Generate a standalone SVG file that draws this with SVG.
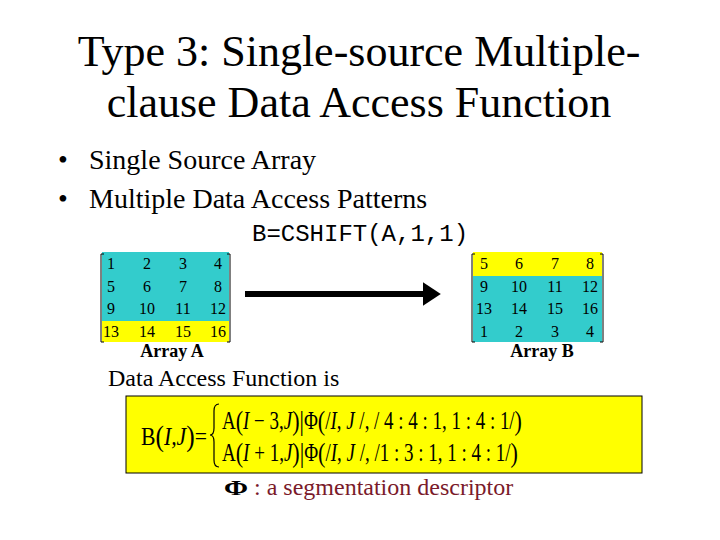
<svg xmlns="http://www.w3.org/2000/svg" width="720" height="540" viewBox="0 0 720 540">
<style>
.serif{font-family:"Liberation Serif","Times New Roman",serif;fill:#000}
.title{font-size:44px;text-anchor:middle}
.bullet{font-size:28px}
.num{font-size:16px;text-anchor:middle}
.lbl{font-size:18px;font-weight:bold;text-anchor:middle}
.mono{font-family:"Liberation Mono","Courier New",monospace;font-size:24px;fill:#000}
.f{font-size:18px}
.p{font-size:21px}
.it{font-style:italic}
.brk{fill:none;stroke:#000;stroke-width:1}
.teal{fill:#33CCCC}
.yel{fill:#FFFF00}
</style>
<defs>
<marker id="ah" markerWidth="4" markerHeight="4" refX="0.2" refY="2" orient="auto" markerUnits="strokeWidth">
<path d="M0,0 L3,2 L0,4 Z" fill="#000"/>
</marker>
</defs>
<rect width="720" height="540" fill="#fff"/>
<g id="title">
<text class="serif title" x="359" y="66">Type 3: Single-source Multiple-</text>
<text class="serif title" x="359" y="117">clause Data Access Function</text>
</g>
<g id="bullets">
<text class="serif bullet" x="58" y="169">•</text>
<text class="serif bullet" x="89" y="169">Single Source Array</text>
<text class="serif bullet" x="58" y="208">•</text>
<text class="serif bullet" x="89" y="208">Multiple Data Access Patterns</text>
</g>
<g id="code">
<text class="mono" x="252" y="241">B=CSHIFT(A,1,1)</text>
</g>
<g id="arrayA">
<rect class="teal" x="102" y="252" width="127" height="69"/>
<rect class="yel" x="102" y="321" width="127" height="21"/>
<path class="brk" d="M104,254 L101,254 L101,342 L104,342"/>
<path class="brk" d="M227,254 L230,254 L230,342 L227,342"/>
<g class="serif num">
<text x="111" y="269">1</text><text x="147" y="269">2</text><text x="183" y="269">3</text><text x="218" y="269">4</text>
<text x="111" y="292">5</text><text x="147" y="292">6</text><text x="183" y="292">7</text><text x="218" y="292">8</text>
<text x="111" y="314">9</text><text x="147" y="314">10</text><text x="183" y="314">11</text><text x="218" y="314">12</text>
<text x="111" y="337">13</text><text x="147" y="337">14</text><text x="183" y="337">15</text><text x="218" y="337">16</text>
</g>
<text class="serif lbl" x="172" y="357">Array A</text>
</g>
<g id="arrayB">
<rect class="yel" x="473" y="252" width="129" height="24"/>
<rect class="teal" x="473" y="276" width="129" height="66"/>
<path class="brk" d="M475,254 L472,254 L472,342 L475,342"/>
<path class="brk" d="M600,254 L603,254 L603,342 L600,342"/>
<g class="serif num">
<text x="484" y="269">5</text><text x="519" y="269">6</text><text x="555" y="269">7</text><text x="590" y="269">8</text>
<text x="484" y="292">9</text><text x="519" y="292">10</text><text x="555" y="292">11</text><text x="590" y="292">12</text>
<text x="484" y="314">13</text><text x="519" y="314">14</text><text x="555" y="314">15</text><text x="590" y="314">16</text>
<text x="484" y="337">1</text><text x="519" y="337">2</text><text x="555" y="337">3</text><text x="590" y="337">4</text>
</g>
<text class="serif lbl" x="542" y="357">Array B</text>
</g>
<g id="connectors">
<line x1="245" y1="294" x2="424" y2="294" stroke="#000" stroke-width="6" marker-end="url(#ah)"/>
</g>
<g id="daf-label">
<text class="serif" x="108" y="386" font-size="24">Data Access Function is</text>
</g>
<g id="formula">
<rect x="126" y="396" width="516" height="77" fill="#FFFF00" stroke="#000" stroke-width="1"/>
<g transform="translate(141,445) scale(1,1.4)">
<text class="serif f" x="0" y="0" textLength="66" lengthAdjust="spacingAndGlyphs">B<tspan class="p" dy="1">(</tspan><tspan class="it" dy="-1">I,J</tspan><tspan class="p" dy="1">)</tspan><tspan dy="-1">=</tspan></text>
</g>
<path d="M219,404 Q214,404 214,411 L214,428 Q214,435 210,435 Q214,435 214,442 L214,460 Q214,467 219,467" fill="none" stroke="#000" stroke-width="1.2"/>
<g transform="translate(222,429) scale(1,1.35)">
<text class="serif f" x="0" y="0" textLength="300" lengthAdjust="spacingAndGlyphs">A<tspan class="p" dy="1">(</tspan><tspan class="it" dy="-1">I</tspan> − 3,<tspan class="it">J</tspan><tspan class="p" dy="1">)|</tspan><tspan dy="-1">Φ</tspan><tspan class="p" dy="1">(</tspan><tspan dy="-1">/</tspan><tspan class="it">I</tspan>, <tspan class="it">J</tspan> /, / 4 : 4 : 1, 1 : 4 : 1/<tspan class="p" dy="1">)</tspan></text>
</g>
<g transform="translate(222,461) scale(1,1.35)">
<text class="serif f" x="0" y="0" textLength="296" lengthAdjust="spacingAndGlyphs">A<tspan class="p" dy="1">(</tspan><tspan class="it" dy="-1">I</tspan> + 1,<tspan class="it">J</tspan><tspan class="p" dy="1">)|</tspan><tspan dy="-1">Φ</tspan><tspan class="p" dy="1">(</tspan><tspan dy="-1">/</tspan><tspan class="it">I</tspan>, <tspan class="it">J</tspan> /, /1 : 3 : 1, 1 : 4 : 1/<tspan class="p" dy="1">)</tspan></text>
</g>
</g>
<g id="legend">
<g transform="translate(236,495) scale(1.45,1)">
<text class="serif" x="0" y="0" font-size="20" font-weight="bold" text-anchor="middle">Φ</text>
</g>
<text class="serif" x="254" y="495" font-size="24" style="fill:#7A1A2A">: a segmentation descriptor</text>
</g>
</svg>
